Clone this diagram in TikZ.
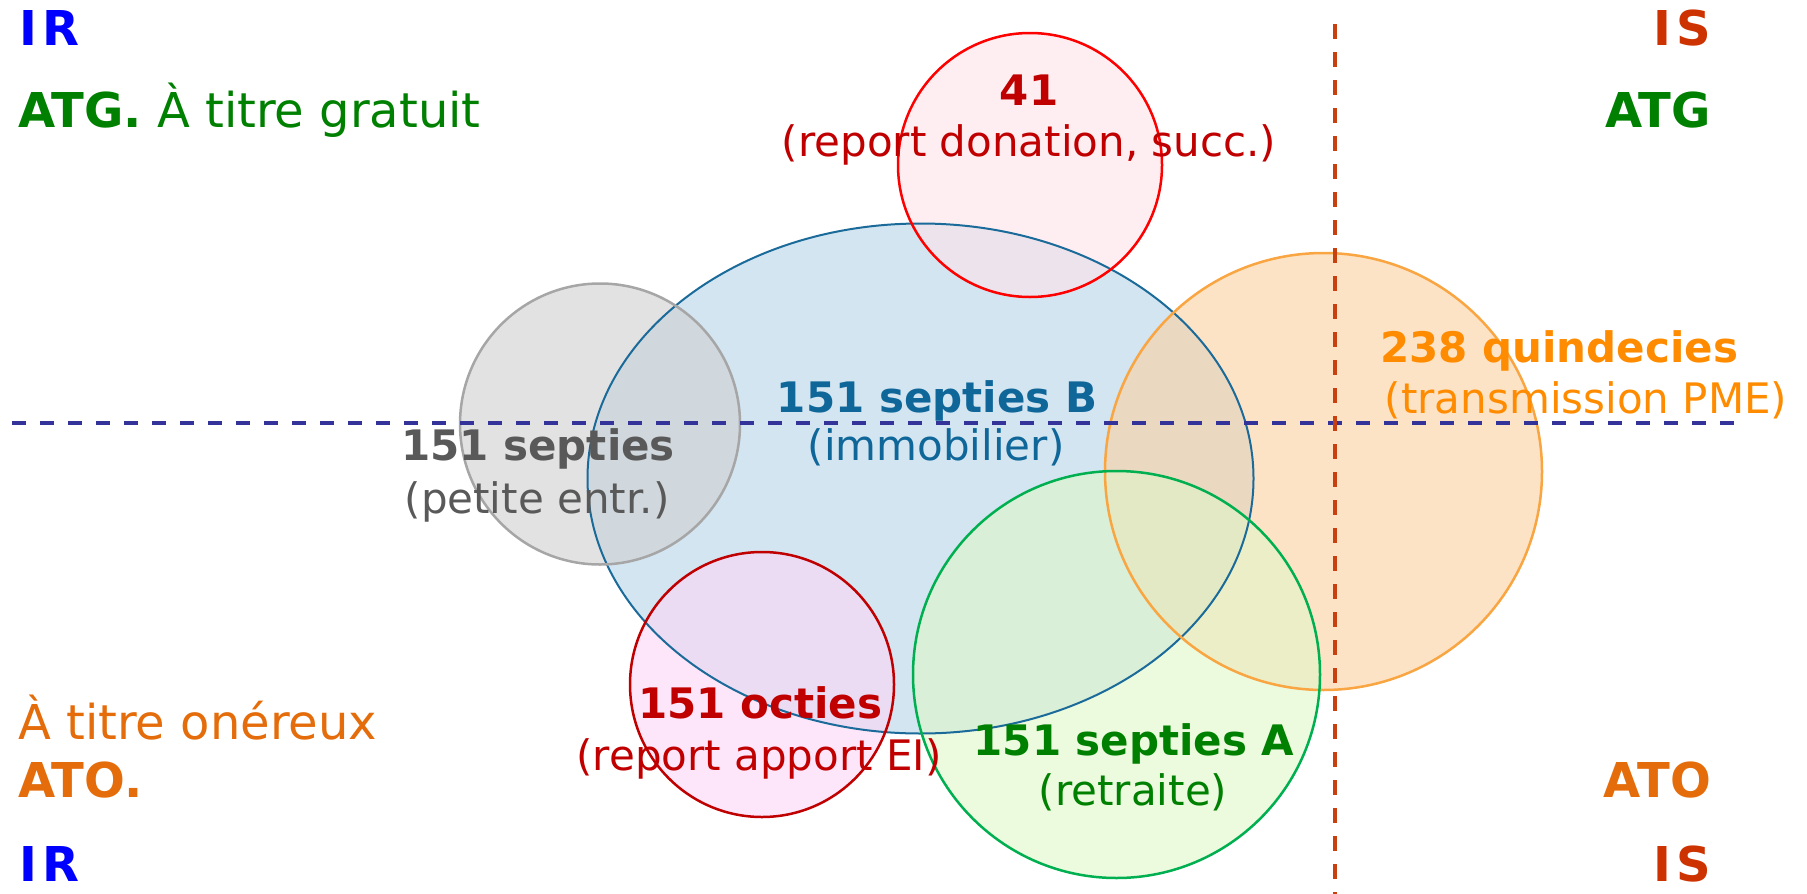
\documentclass[tikz,border=0pt]{standalone}
\usepackage{fontspec}
\setmainfont{DejaVu Sans}
\usetikzlibrary{shapes.geometric}
\definecolor{cIR}{HTML}{0000FF}
\definecolor{cIS}{HTML}{CC3300}
\definecolor{cATG}{HTML}{008000}
\definecolor{cATO}{HTML}{E46C0A}
\definecolor{cRed}{HTML}{C00000}
\definecolor{cBlue}{HTML}{0F6699}
\definecolor{cGray}{HTML}{595959}
\definecolor{cOrange}{HTML}{FF8C00}
\definecolor{cGreen}{HTML}{008000}
\definecolor{hLine}{HTML}{333399}
\definecolor{vLine}{HTML}{C8400F}
\definecolor{rStroke}{HTML}{FF0000}
\definecolor{rFill}{HTML}{FFE3E8}
\definecolor{bStroke}{HTML}{1A6A9A}
\definecolor{bFill}{HTML}{B5D3E8}
\definecolor{gStroke}{HTML}{A6A6A6}
\definecolor{gFill}{HTML}{CFCFCF}
\definecolor{oStroke}{HTML}{F9A541}
\definecolor{oFill}{HTML}{FCD0A0}
\definecolor{grStroke}{HTML}{00B050}
\definecolor{grFill}{HTML}{DFF6C8}
\definecolor{pStroke}{HTML}{C00000}
\definecolor{pFill}{HTML}{FBD6F5}
\tikzset{
  blob/.style={ellipse, inner sep=0pt, fill opacity=0.6},
  rim/.style={line width=2.5pt},
  head/.style={inner sep=0pt, font=\fontsize{48}{56}\selectfont},
  headb/.style={inner sep=0pt, font=\fontsize{48}{56}\selectfont\bfseries},
  lblb/.style={inner sep=0pt, anchor=base, font=\fontsize{42}{50}\selectfont\bfseries},
  lblr/.style={inner sep=0pt, anchor=base, font=\fontsize{42}{50}\selectfont},
  hdash/.style={draw=hLine, line width=4pt, dash pattern=on 14pt off 14pt},
  vdash/.style={draw=vLine, line width=3.4pt, dash pattern=on 15pt off 13pt}
}
\begin{document}
\begin{tikzpicture}[x=1pt,y=-1pt]
\useasboundingbox (0,0) rectangle (1807,894);
% shapes (fills)
\node[blob, fill=bFill, minimum width=666pt, minimum height=510pt] (immo) at (920.5,478.5) {};
\node[blob, fill=rFill, minimum width=264pt, minimum height=264pt] (don) at (1030,165) {};
\node[blob, fill=gFill, minimum width=280pt, minimum height=281pt] (pet) at (600,424) {};
\node[blob, fill=oFill, minimum width=437pt, minimum height=437pt] (pme) at (1323.5,471.5) {};
\node[blob, fill=grFill, minimum width=407pt, minimum height=407pt] (ret) at (1116.5,674.5) {};
\node[blob, fill=pFill, minimum width=264pt, minimum height=265pt] (oct) at (762,684.5) {};
% outlines
\draw[rim, draw=bStroke, line width=2pt] (immo.center) ellipse [x radius=333pt, y radius=255pt];
\draw[rim, draw=rStroke] (don.center) circle [radius=132pt];
\draw[rim, draw=gStroke] (pet.center) ellipse [x radius=140pt, y radius=140.5pt];
\draw[rim, draw=oStroke] (pme.center) circle [radius=218.5pt];
\draw[rim, draw=grStroke] (ret.center) circle [radius=203.5pt];
\draw[rim, draw=pStroke] (oct.center) ellipse [x radius=132pt, y radius=132.5pt];
% dashed axes
\coordinate (hl) at (12,423);
\coordinate (hr) at (1738,423);
\coordinate (vt) at (1335,24);
\coordinate (vb) at (1335,894);
\draw[hdash] (hl) -- (hr);
\draw[vdash] (vt) -- (vb);
% corner labels
\node[headb, anchor=base west, text=cIR] (irT) at (19,45) {I\kern5pt R};
\node[head, anchor=base west, text=cATG] (atgL) at (18,127) {\textbf{ATG.} À titre gratuit};
\node[head, anchor=base west, text=cATO] (atoT) at (18,739) {À titre onéreux};
\node[headb, anchor=base west, text=cATO] (atoL) at (18,797) {ATO.};
\node[headb, anchor=base west, text=cIR] (irB) at (19,881) {I\kern5pt R};
\node[headb, anchor=base east, text=cIS] (isT) at (1711,45) {I\kern5pt S};
\node[headb, anchor=base east, text=cATG] (atgR) at (1711,127) {ATG};
\node[headb, anchor=base east, text=cATO] (atoR) at (1711,797) {ATO};
\node[headb, anchor=base east, text=cIS] (isB) at (1711,881) {I\kern5pt S};
% circle labels
\node[lblb, text=cRed] (t41) at (1029,105) {41};
\node[lblr, text=cRed] (t41b) at (1029,156) {(report donation, succ.)};
\node[lblb, text=cBlue] (tB) at (937,412) {151 septies B};
\node[lblr, text=cBlue] (tBb) at (936,460) {(immobilier)};
\node[lblb, text=cGray] (tS) at (538,460) {151 septies};
\node[lblr, text=cGray] (tSb) at (537,513) {(petite entr.)};
\node[lblb, text=cOrange] (tQ) at (1559,362) {238 quindecies};
\node[lblr, text=cOrange] (tQb) at (1586,413) {(transmission PME)};
\node[lblb, text=cRed] (tO) at (760,718) {151 octies};
\node[lblr, text=cRed] (tOb) at (759,770) {(report apport EI)};
\node[lblb, text=cGreen] (tA) at (1134,755) {151 septies A};
\node[lblr, text=cGreen] (tAb) at (1133,805) {(retraite)};
\end{tikzpicture}
\end{document}
